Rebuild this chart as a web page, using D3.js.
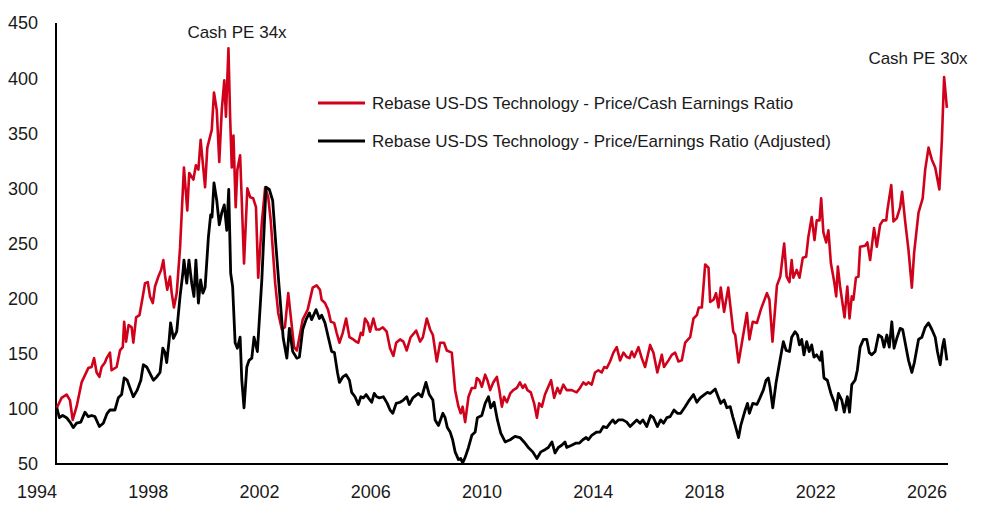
<!DOCTYPE html>
<html>
<head>
<meta charset="utf-8">
<script src="https://cdn.jsdelivr.net/npm/d3@7"></script>
<style>
  body { margin: 0; background: #fff; }
  text { font-family: "Liberation Sans", Arial, sans-serif; fill: #1a1a1a; }
</style>
</head>
<body>
<svg id="chart" width="984" height="516"></svg>
<script>
// Price/Cash Earnings (rebased) - decimal year, value
var cashYears = [1994.03,1994.20,1994.38,1994.50,1994.60,1994.74,1994.92,1995.16,1995.28,1995.37,1995.46,1995.56,1995.64,1995.76,1995.82,1995.94,1996.00,1996.18,1996.30,1996.40,1996.45,1996.52,1996.61,1996.72,1996.78,1996.88,1997.00,1997.12,1997.20,1997.30,1997.38,1997.48,1997.56,1997.68,1997.78,1997.86,1997.92,1998.00,1998.10,1998.16,1998.24,1998.34,1998.46,1998.60,1998.72,1998.79,1998.94,1999.03,1999.12,1999.20,1999.36,1999.44,1999.60,1999.68,1999.78,1999.87,1999.96,2000.05,2000.11,2000.20,2000.26,2000.32,2000.38,2000.46,2000.52,2000.62,2000.76,2000.88,2000.98,2001.09,2001.19,2001.27,2001.40,2001.52,2001.63,2001.72,2001.88,2001.99,2002.12,2002.23,2002.35,2002.56,2002.66,2002.87,2003.05,2003.23,2003.37,2003.49,2003.55,2003.67,2003.78,2003.88,2004.00,2004.09,2004.19,2004.31,2004.43,2004.55,2004.69,2004.79,2004.87,2004.96,2005.03,2005.11,2005.21,2005.29,2005.41,2005.51,2005.63,2005.75,2005.89,2006.01,2006.13,2006.23,2006.37,2006.49,2006.61,2006.75,2006.95,2007.09,2007.19,2007.33,2007.45,2007.55,2007.69,2007.81,2007.95,2008.05,2008.23,2008.35,2008.47,2008.55,2008.62,2008.71,2008.83,2008.95,2009.07,2009.13,2009.22,2009.31,2009.43,2009.51,2009.61,2009.72,2009.85,2009.94,2010.03,2010.11,2010.21,2010.33,2010.44,2010.57,2010.68,2010.78,2010.86,2010.95,2011.07,2011.19,2011.29,2011.37,2011.47,2011.58,2011.70,2011.80,2011.91,2012.03,2012.12,2012.24,2012.36,2012.54,2012.72,2012.84,2012.96,2013.06,2013.14,2013.26,2013.38,2013.50,2013.62,2013.71,2013.80,2013.92,2014.04,2014.16,2014.28,2014.40,2014.52,2014.62,2014.70,2014.79,2014.94,2015.06,2015.18,2015.36,2015.48,2015.62,2015.78,2015.86,2016.02,2016.14,2016.26,2016.38,2016.50,2016.62,2016.80,2016.92,2017.04,2017.11,2017.22,2017.34,2017.46,2017.52,2017.64,2017.73,2017.82,2017.90,2018.02,2018.17,2018.35,2018.42,2018.54,2018.66,2018.84,2018.93,2019.05,2019.20,2019.34,2019.56,2019.65,2019.76,2019.92,2020.04,2020.18,2020.27,2020.37,2020.45,2020.51,2020.63,2020.73,2020.85,2020.97,2021.05,2021.17,2021.27,2021.35,2021.45,2021.51,2021.59,2021.69,2021.77,2021.86,2021.98,2022.05,2022.11,2022.19,2022.35,2022.45,2022.53,2022.61,2022.67,2022.76,2022.85,2022.91,2023.09,2023.17,2023.27,2023.41,2023.51,2023.63,2023.73,2023.85,2023.89,2024.03,2024.11,2024.23,2024.35,2024.42,2024.53,2024.65,2024.77,2024.85,2025.01,2025.16,2025.25,2025.37,2025.49,2025.61,2025.76,2025.85,2025.93,2026.03];
var cashValues = [101,110,113,108,90,102,124,137,138,146,133,129,138,142,146,151,135,138,153,156,179,161,176,174,160,183,185,202,214,215,202,196,211,220,226,235,221,208,220,205,192,205,246,319,280,314,308,321,317,344,301,337,353,387,371,324,371,398,365,427,365,319,348,283,317,330,232,300,292,291,283,219,269,301,292,271,214,187,172,174,205,156,153,181,190,210,212,208,199,196,190,179,178,169,160,169,182,165,163,161,160,169,167,182,178,170,182,172,172,174,170,155,148,160,163,161,153,165,171,161,165,182,172,167,143,160,160,153,151,117,102,96,102,88,111,119,119,128,126,120,131,126,117,124,129,117,102,111,106,114,117,119,124,119,122,117,115,105,92,105,102,113,120,126,110,119,114,122,117,117,115,119,124,122,124,122,133,135,133,138,137,143,151,156,144,151,147,146,152,147,156,146,138,158,151,133,149,138,144,149,151,143,144,160,165,182,185,192,192,231,228,197,199,205,192,210,188,210,170,167,142,160,187,163,179,178,190,205,199,161,212,220,250,220,215,235,219,226,219,237,238,256,274,253,271,271,291,260,251,262,232,215,202,229,211,183,211,182,202,199,219,220,247,248,251,235,264,247,267,271,271,280,303,270,273,283,297,270,244,210,241,278,291,317,337,326,319,299,344,401,373];

// Price/Earnings (adjusted, rebased)
var peYears = [1994.03,1994.12,1994.24,1994.38,1994.53,1994.62,1994.74,1994.89,1995.04,1995.16,1995.28,1995.40,1995.56,1995.70,1995.84,1995.94,1996.12,1996.24,1996.36,1996.45,1996.56,1996.69,1996.78,1996.92,1997.05,1997.14,1997.26,1997.36,1997.50,1997.62,1997.74,1997.84,1997.92,1997.98,1998.07,1998.12,1998.22,1998.34,1998.46,1998.56,1998.60,1998.70,1998.78,1998.88,1998.96,1999.03,1999.12,1999.20,1999.28,1999.36,1999.48,1999.56,1999.61,1999.68,1999.78,1999.87,1999.96,2000.05,2000.14,2000.21,2000.28,2000.35,2000.44,2000.52,2000.62,2000.68,2000.76,2000.86,2000.94,2001.04,2001.12,2001.24,2001.40,2001.55,2001.67,2001.79,2001.91,2002.03,2002.17,2002.30,2002.39,2002.51,2002.66,2002.75,2002.87,2002.99,2003.11,2003.19,2003.35,2003.47,2003.55,2003.67,2003.79,2003.91,2004.01,2004.12,2004.19,2004.31,2004.43,2004.55,2004.63,2004.75,2004.87,2004.96,2005.05,2005.15,2005.23,2005.35,2005.44,2005.53,2005.63,2005.77,2005.91,2006.01,2006.11,2006.23,2006.37,2006.49,2006.61,2006.70,2006.83,2007.03,2007.15,2007.30,2007.42,2007.55,2007.63,2007.75,2007.91,2007.99,2008.07,2008.17,2008.26,2008.35,2008.47,2008.55,2008.62,2008.71,2008.83,2008.95,2009.07,2009.15,2009.31,2009.43,2009.55,2009.63,2009.75,2009.87,2009.99,2010.15,2010.33,2010.50,2010.68,2010.86,2010.98,2011.14,2011.29,2011.43,2011.58,2011.70,2011.83,2011.94,2012.06,2012.18,2012.30,2012.36,2012.54,2012.70,2012.82,2012.94,2013.06,2013.14,2013.26,2013.44,2013.56,2013.68,2013.80,2013.92,2014.02,2014.10,2014.22,2014.38,2014.52,2014.64,2014.76,2014.88,2015.00,2015.10,2015.24,2015.38,2015.48,2015.62,2015.74,2015.84,2015.96,2016.08,2016.22,2016.34,2016.46,2016.62,2016.77,2016.92,2017.04,2017.16,2017.31,2017.42,2017.52,2017.70,2017.82,2017.90,2018.02,2018.12,2018.24,2018.33,2018.42,2018.54,2018.62,2018.78,2018.86,2018.93,2019.05,2019.20,2019.31,2019.43,2019.53,2019.61,2019.67,2019.77,2019.89,2020.03,2020.15,2020.25,2020.37,2020.45,2020.57,2020.66,2020.73,2020.81,2020.89,2020.99,2021.08,2021.17,2021.25,2021.35,2021.47,2021.53,2021.61,2021.73,2021.86,2021.98,2022.05,2022.13,2022.25,2022.34,2022.45,2022.53,2022.61,2022.73,2022.81,2022.91,2023.03,2023.15,2023.24,2023.33,2023.45,2023.57,2023.69,2023.77,2023.87,2023.96,2024.05,2024.13,2024.23,2024.35,2024.44,2024.53,2024.65,2024.77,2024.86,2025.01,2025.13,2025.25,2025.37,2025.49,2025.61,2025.69,2025.79,2025.87,2025.93,2026.03];
var peValues = [101,92,94,92,87,83,87,88,97,93,94,93,84,87,96,99,99,110,113,128,126,117,111,117,126,140,138,133,126,129,133,155,151,142,163,178,164,170,202,223,235,214,235,214,202,235,196,217,205,210,256,276,274,305,289,267,278,285,262,299,223,211,160,155,165,126,101,138,144,146,165,152,217,301,299,289,247,208,164,146,173,152,146,147,172,181,187,181,190,182,185,178,165,152,151,133,124,129,131,126,115,111,104,111,110,113,110,106,114,111,110,111,105,99,96,105,106,108,111,104,110,114,111,124,113,108,90,85,96,92,83,79,72,61,54,55,51,56,65,76,79,92,94,105,111,101,106,90,78,70,72,75,74,69,65,61,55,61,63,65,70,60,65,67,70,65,67,69,69,72,74,72,76,79,79,84,83,87,90,87,90,90,88,84,87,90,87,90,84,94,92,84,90,87,92,93,99,96,96,102,108,113,106,110,113,115,114,118,110,105,108,101,102,93,85,74,85,99,105,96,105,104,110,117,126,128,120,101,124,144,161,153,152,165,170,167,158,163,149,161,152,158,147,149,144,152,128,126,114,106,99,114,108,97,111,97,122,126,135,156,163,163,151,149,152,167,165,156,167,156,179,155,164,173,172,160,144,133,142,163,165,174,178,172,165,152,140,156,163,144];

var yTicks = [50, 100, 150, 200, 250, 300, 350, 400, 450];
var xTicks = [1994, 1998, 2002, 2006, 2010, 2014, 2018, 2022, 2026];
var seriesNames = ['Rebase US-DS Technology - Price/Cash Earnings Ratio',
                   'Rebase US-DS Technology - Price/Earnings Ratio (Adjusted)'];
var seriesColors = ['#d0021b', '#000000'];

var svg = d3.select('#chart');

var x = d3.scaleLinear().domain([1994, 2026.07]).range([56, 948]);
var y = d3.scaleLinear().domain([50, 450]).range([464, 23]);

function pairs(years, values) {
    return years.map(function (t, i) { return [t, values[i]]; });
}

var line = d3.line()
    .x(function (d) { return x(d[0]); })
    .y(function (d) { return y(d[1]); });

// axes (lines only, labels drawn below)
svg.append('line')
    .attr('x1', x(1994)).attr('x2', x(1994))
    .attr('y1', y(450)).attr('y2', y(50))
    .attr('stroke', '#000').attr('stroke-width', 2);
svg.append('line')
    .attr('x1', x(1994) - 1).attr('x2', x(2026.07))
    .attr('y1', y(50)).attr('y2', y(50))
    .attr('stroke', '#000').attr('stroke-width', 2);

svg.selectAll('.ylab').data(yTicks).enter().append('text')
    .attr('class', 'ylab')
    .attr('x', 38)
    .attr('y', function (d) { return y(d); })
    .attr('dy', '0.36em')
    .attr('text-anchor', 'end')
    .style('font-size', '18px')
    .text(function (d) { return d; });

svg.selectAll('.xlab').data(xTicks).enter().append('text')
    .attr('class', 'xlab')
    .attr('x', function (d) { return x(d) + 1; })
    .attr('y', 498)
    .attr('text-anchor', 'end')
    .style('font-size', '18px')
    .text(function (d) { return d; });

// lines
svg.append('path')
    .datum(pairs(cashYears, cashValues))
    .attr('d', line)
    .attr('fill', 'none')
    .attr('stroke', seriesColors[0])
    .attr('stroke-width', 2.6)
    .attr('stroke-linejoin', 'round');

svg.append('path')
    .datum(pairs(peYears, peValues))
    .attr('d', line)
    .attr('fill', 'none')
    .attr('stroke', seriesColors[1])
    .attr('stroke-width', 2.8)
    .attr('stroke-linejoin', 'round');

// legend
var legend = svg.append('g');
seriesNames.forEach(function (name, i) {
    var ly = 103 + i * 38;
    legend.append('line')
        .attr('x1', 318).attr('x2', 365)
        .attr('y1', ly).attr('y2', ly)
        .attr('stroke', seriesColors[i])
        .attr('stroke-width', 3);
    legend.append('text')
        .attr('x', 372).attr('y', ly)
        .attr('dy', '0.36em')
        .style('font-size', '17px')
        .text(name);
});

// annotations
svg.append('text')
    .attr('x', 237).attr('y', 38)
    .attr('text-anchor', 'middle')
    .style('font-size', '17px')
    .text('Cash PE 34x');
svg.append('text')
    .attr('x', 918).attr('y', 64)
    .attr('text-anchor', 'middle')
    .style('font-size', '17px')
    .text('Cash PE 30x');
</script>
</body>
</html>
